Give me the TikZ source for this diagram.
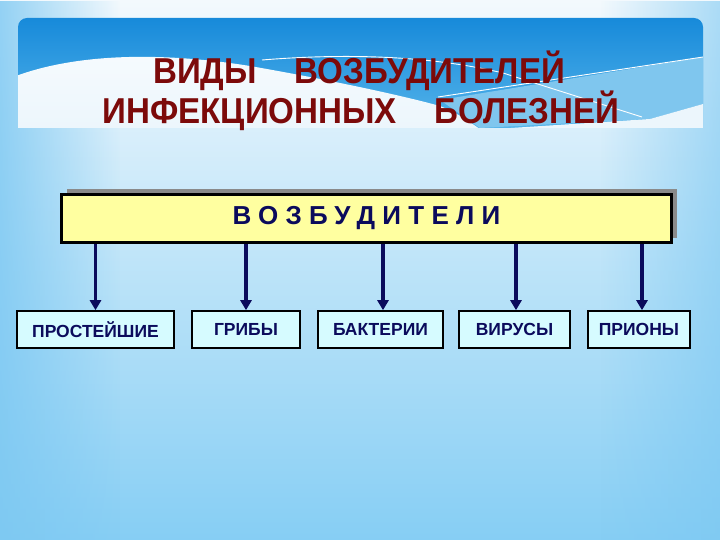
\documentclass[tikz,border=0pt]{standalone}
\usepackage{fontspec}
\setmainfont{Liberation Sans}
\usetikzlibrary{arrows.meta,fadings,shadows}
\definecolor{bgtop}{HTML}{F3F9FD}
\definecolor{bgmid}{HTML}{DCEFFA}
\definecolor{bgbot}{HTML}{86CEF4}
\definecolor{bgedge}{HTML}{7CC8F2}
\definecolor{bantop}{HTML}{178ADA}
\definecolor{banbot}{HTML}{55B4EA}
\definecolor{banlight}{HTML}{7FC6EE}
\definecolor{wavewhite}{HTML}{F6FBFE}
\definecolor{wavelow}{HTML}{ECF6FC}
\definecolor{titlered}{HTML}{7C0A0A}
\definecolor{navy}{HTML}{0B0B5C}
\definecolor{mainfill}{HTML}{FFFFA0}
\definecolor{childfill}{HTML}{D6FBFF}
\definecolor{shadowgray}{HTML}{8A8A8A}
\tikzfading[name=fadeleft, left color=transparent!0, right color=transparent!100]
\tikzfading[name=faderight, left color=transparent!100, right color=transparent!0]
\tikzset{
  titletext/.style={text=titlered, font=\fontsize{36}{38}\selectfont\bfseries, inner sep=0pt},
  mainbox/.style={draw=black, line width=3pt, fill=mainfill, minimum width=610pt, minimum height=48pt,
    text=navy, font=\fontsize{26}{28}\selectfont\bfseries\addfontfeature{LetterSpace=28},
    drop shadow={shadow xshift=5pt, shadow yshift=5pt, fill=shadowgray, opacity=1}},
  childbox/.style={draw=black, line width=1.6pt, fill=childfill, minimum height=37pt,
    text=navy, font=\fontsize{17.5}{19}\selectfont\bfseries, inner sep=0pt},
  arr/.style={draw=navy, line width=3.8pt, -{Triangle[length=10pt,width=11pt]}}
}
\begin{document}
\begin{tikzpicture}[x=1pt,y=-1pt]
\useasboundingbox (0,0) rectangle (720,540);
% background
\shade[top color=bgtop, middle color=bgmid, bottom color=bgbot] (0,0) rectangle (720,540);
\fill[bgedge, path fading=fadeleft, opacity=0.8] (0,0) rectangle (120,540);
\fill[bgedge, path fading=faderight, opacity=0.6] (600,0) rectangle (720,540);
% banner
\begin{scope}
\clip (18,128) -- (18,27) arc[start angle=180, end angle=90, radius=9pt] -- (694,18)
  arc[start angle=90, end angle=0, radius=9pt] -- (703,128) -- cycle;
\shade[top color=bantop, bottom color=banbot] (18,18) rectangle (703,128);
\fill[banlight] (440,100) -- (703,57) -- (703,104) -- (650,119) -- (480,128) -- cycle;
\shade[top color=wavewhite, bottom color=wavelow] (16,76) .. controls (70,56) and (150,50) .. (250,66)
  .. controls (330,80) and (400,95) .. (440,106)
  .. controls (460,114) and (472,124) .. (480,129) -- (16,129) -- cycle;
\fill[wavelow] (650,119) -- (703,104) -- (703,130) -- (480,130) -- cycle;
\draw[white, line width=0.9pt] (438,97) -- (703,57);
\draw[white, line width=0.9pt] (262,60) .. controls (360,52) and (440,58) .. (503,73) -- (642,117);
\end{scope}
% title
\node[titletext, anchor=base] (t1) at (359,84) {\scalebox{0.92}[1]{ВИДЫ\hspace{41pt}ВОЗБУДИТЕЛЕЙ}};
\node[titletext, anchor=base] (t2) at (361,124) {\scalebox{0.92}[1]{ИНФЕКЦИОННЫХ\hspace{41pt}БОЛЕЗНЕЙ}};
% main box
\node[mainbox] (m) at (366.5,218.5) {ВОЗБУДИТЕЛИ};
% children
\node[childbox, minimum width=157pt] (c1) at (95.5,329.5) {ПРОСТЕЙШИЕ};
\node[childbox, minimum width=108pt] (c2) at (246,329.5) {ГРИБЫ};
\node[childbox, minimum width=125pt] (c3) at (380.5,329.5) {БАКТЕРИИ};
\node[childbox, minimum width=111pt] (c4) at (514.5,329.5) {ВИРУСЫ};
\node[childbox, minimum width=102pt] (c5) at (639,329.5) {ПРИОНЫ};
% arrows
\draw[arr] (c1.north |- m.south) -- (c1.north);
\draw[arr] (c2.north |- m.south) -- (c2.north);
\draw[arr] ([xshift=2.5pt]c3.north |- m.south) -- ([xshift=2.5pt]c3.north);
\draw[arr] ([xshift=1.5pt]c4.north |- m.south) -- ([xshift=1.5pt]c4.north);
\draw[arr] ([xshift=3pt]c5.north |- m.south) -- ([xshift=3pt]c5.north);
\end{tikzpicture}
\end{document}
